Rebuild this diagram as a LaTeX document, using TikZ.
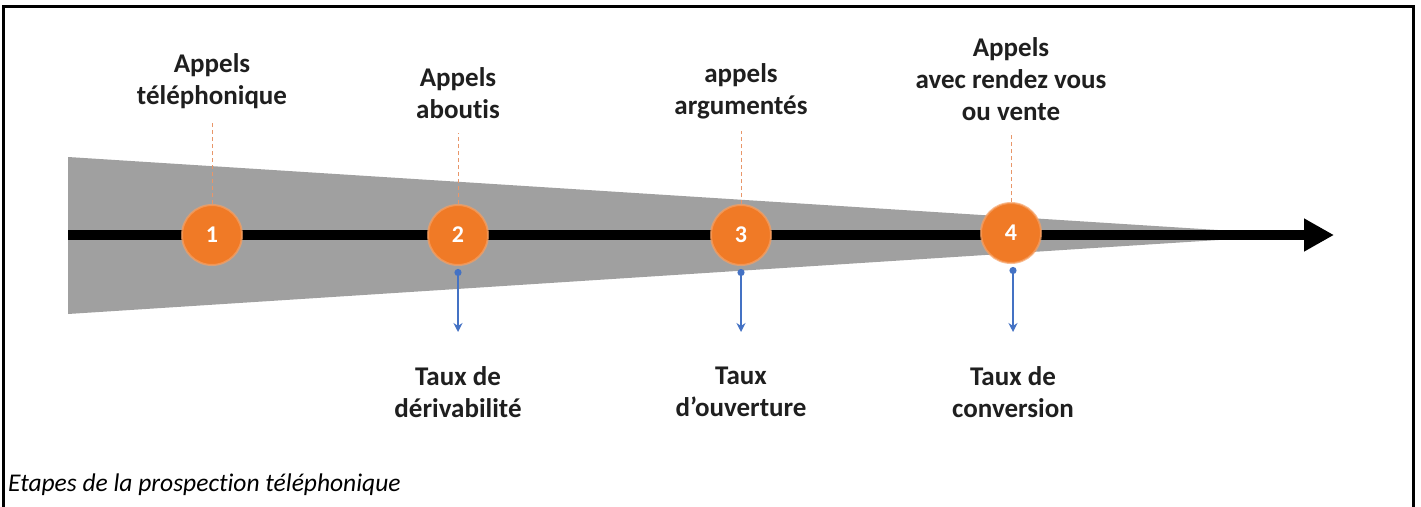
\documentclass[tikz,border=0pt]{standalone}
\usepackage{fontspec}
\setmainfont{Carlito}[Ligatures=NoCommon]
\usetikzlibrary{arrows.meta}
\definecolor{orng}{RGB}{240,122,38}
\definecolor{orngglow}{RGB}{246,160,100}
\definecolor{gry}{RGB}{160,160,160}
\definecolor{blu}{RGB}{68,114,196}
\definecolor{guidecol}{RGB}{232,150,105}
\begin{document}
\begin{tikzpicture}[x=1pt,y=-1pt,
  stepnum/.style={circle, fill=orng, draw=orngglow, draw opacity=0.7, line width=2pt,
    minimum size=60pt, inner sep=0pt, text=white, font=\bfseries\fontsize{24}{24}\selectfont},
  lbl/.style={align=center, inner sep=0pt, text=black!88, font=\bfseries\fontsize{27}{32}\selectfont},
  guide/.style={guidecol, dashed, dash pattern=on 4pt off 3pt, line width=0.9pt},
  meas/.style={blu, line width=2pt, {Circle[length=7pt,width=7pt]}-{Stealth[length=9pt,width=9pt]}},
  axisline/.style={line width=10pt, -{Triangle[length=30pt,width=31pt]}},
  framestyle/.style={line width=3pt}
]
\useasboundingbox (0,0) rectangle (1421,506);
\fill[white] (0,0) rectangle (1421,506);
% frame (no bottom edge visible)
\draw[framestyle] (3.5,510) -- (3.5,6.5) -- (1413.5,6.5) -- (1413.5,510);

% gray wedge
\fill[gry] (68,157) -- (1265,233) -- (1265,237) -- (68,314) -- cycle;

% axis
\coordinate (axstart) at (68,235);
\coordinate (axend) at (1334,235);
\draw[axisline] (axstart) -- (axend);

% step circles
\node[stepnum] (c1) at (212,235) {1};
\node[stepnum] (c2) at (458,235) {2};
\node[stepnum] (c3) at (741,235) {3};
\node[stepnum] (c4) at (1011,233) {4};

% top labels
\node[lbl] (t1) at (212,81) {Appels\\téléphonique};
\node[lbl] (t2) at (458,93) {Appels\\aboutis};
\node[lbl] (t3) at (741,91) {appels\\argumentés};
\node[lbl] (t4) at (1011,79) {Appels\\avec rendez vous\\ou vente};

% guide lines
\coordinate (g1) at (212,121);
\coordinate (g2) at (458,133);
\coordinate (g3) at (741,131);
\coordinate (g4) at (1011,132);
\draw[guide] (c1.north) -- (g1);
\draw[guide] (c2.north) -- (g2);
\draw[guide] (c3.north) -- (g3);
\draw[guide] (c4.north) -- (g4);

% measure arrows
\coordinate (m2) at (458,332);
\coordinate (m3) at (741,332);
\coordinate (m4) at (1013,332);
\draw[meas] ([yshift=-3pt]c2.south) -- (m2);
\draw[meas] ([yshift=-3pt]c3.south) -- (m3);
\draw[meas] ([xshift=2pt,yshift=-3pt]c4.south) -- (m4);

% bottom labels
\node[lbl] (b2) at (458,392) {Taux de\\dérivabilité};
\node[lbl] (b3) at (741,392) {Taux\\d’ouverture};
\node[lbl] (b4) at (1013,392) {Taux de\\conversion};

% caption
\node[anchor=base west, inner sep=0pt, font=\itshape\fontsize{25.5}{30}\selectfont] (cap) at (8,491) {Etapes de la prospection téléphonique};
\end{tikzpicture}
\end{document}
